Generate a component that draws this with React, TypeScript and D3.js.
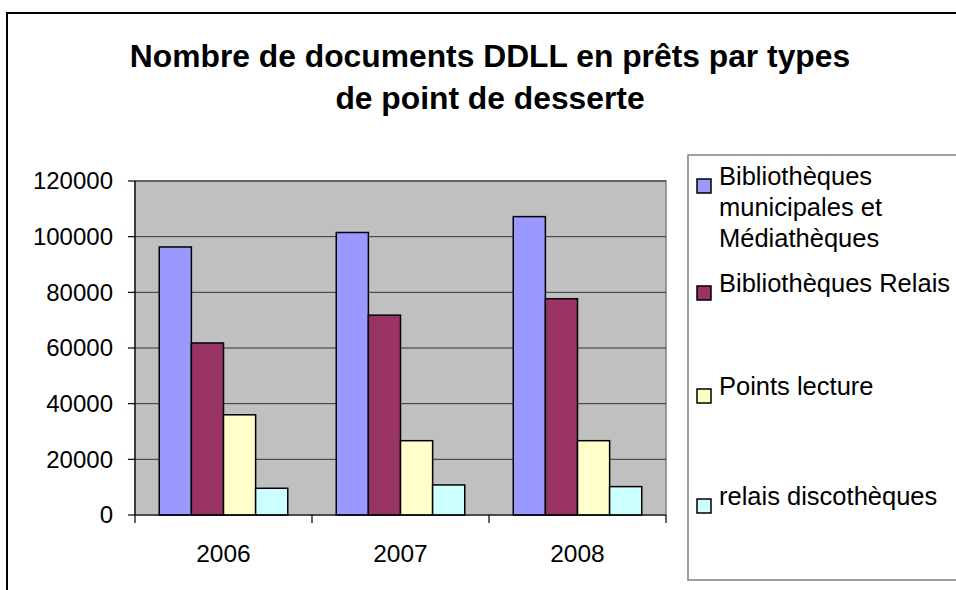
import React from "react";
import * as d3 from "d3";

const years = ["2006", "2007", "2008"];
const seriesNames = [
  ["Bibliothèques", "municipales et", "Médiathèques"],
  ["Bibliothèques Relais"],
  ["Points lecture"],
  ["relais discothèques"],
];
const bibMunicipales = [96300, 101500, 107200];
const bibRelais = [61800, 71800, 77700];
const pointsLecture = [36000, 26700, 26700];
const relaisDisco = [9600, 10800, 10200];
const yTicks = [0, 20000, 40000, 60000, 80000, 100000, 120000];
const titleLines = ["Nombre de documents DDLL en prêts par types", "de point de desserte"];

const colors = ["#9999FF", "#993366", "#FFFFCC", "#CCFFFF"];
const FONT = "'Liberation Sans', Arial, sans-serif";

export default function App() {
  const W = 956, H = 590;
  const plot = { left: 135, right: 666, top: 181, bottom: 515 };
  const series = [bibMunicipales, bibRelais, pointsLecture, relaisDisco];

  const x0 = d3.scaleBand<string>().domain(years).range([plot.left, plot.right]).paddingInner(0).paddingOuter(0);
  const x1 = d3.scaleBand<number>().domain(d3.range(series.length)).range([0, x0.bandwidth()]).paddingInner(0).paddingOuter(0.755);
  const y = d3.scaleLinear().domain([0, 120000]).range([plot.bottom, plot.top]);

  const legendItems = [
    { baselines: [185, 216, 247] },
    { baselines: [292] },
    { baselines: [395] },
    { baselines: [505] },
  ];

  return (
    <svg width={W} height={H} style={{ position: "absolute", left: 0, top: 0, background: "#fff" }} fontFamily={FONT}>
      {/* outer border */}
      <rect x={7} y={13} width={1100} height={1000} fill="#fff" stroke="#000" strokeWidth={2} />

      {/* title */}
      {titleLines.map((t, i) => (
        <text key={i} x={490} y={67 + i * 41.5} textAnchor="middle" fontSize={31.8} fontWeight="bold" fill="#000">
          {t}
        </text>
      ))}

      {/* plot area */}
      <rect x={plot.left} y={plot.top} width={plot.right - plot.left} height={plot.bottom - plot.top} fill="#C0C0C0" stroke="#808080" strokeWidth={1.5} />
      {yTicks.filter((v) => v > 0).map((v) => (
        <line key={v} x1={plot.left} x2={plot.right} y1={y(v)} y2={y(v)} stroke="#333" strokeWidth={1} />
      ))}

      {/* bars */}
      {years.map((yr, gi) => (
        <g key={yr} transform={`translate(${x0(yr)},0)`}>
          {series.map((s, si) => (
            <rect
              key={si}
              x={x1(si)}
              y={y(s[gi])}
              width={x1.bandwidth()}
              height={y(0) - y(s[gi])}
              fill={colors[si]}
              stroke="#000"
              strokeWidth={1.5}
            />
          ))}
        </g>
      ))}

      {/* axes */}
      <line x1={plot.left} x2={plot.left} y1={plot.top} y2={plot.bottom + 8} stroke="#000" strokeWidth={1.2} />
      <line x1={plot.left} x2={plot.right} y1={plot.bottom} y2={plot.bottom} stroke="#000" strokeWidth={1.2} />
      {yTicks.map((v) => (
        <g key={v}>
          <line x1={plot.left - 7} x2={plot.left} y1={y(v)} y2={y(v)} stroke="#000" strokeWidth={1.2} />
          <text x={113} y={y(v)} dy="0.35em" textAnchor="end" fontSize={24} fill="#000">
            {v}
          </text>
        </g>
      ))}
      {years.map((yr) => (
        <g key={yr}>
          <line x1={(x0(yr) as number) + x0.bandwidth()} x2={(x0(yr) as number) + x0.bandwidth()} y1={plot.bottom} y2={plot.bottom + 8} stroke="#000" strokeWidth={1.2} />
          <text x={(x0(yr) as number) + x0.bandwidth() / 2} y={561.5} textAnchor="middle" fontSize={24.5} fill="#000">
            {yr}
          </text>
        </g>
      ))}

      {/* legend */}
      <rect x={688} y={155} width={400} height={425} fill="#fff" stroke="#808080" strokeWidth={1.5} />
      {legendItems.map((it, i) => (
        <g key={i}>
          <rect x={697} y={it.baselines[0] - 6} width={14} height={14} fill={colors[i]} stroke="#000" strokeWidth={1.5} />
          {seriesNames[i].map((line, li) => (
            <text key={li} x={719} y={it.baselines[li]} fontSize={25.5} fill="#000">
              {line}
            </text>
          ))}
        </g>
      ))}
    </svg>
  );
}
